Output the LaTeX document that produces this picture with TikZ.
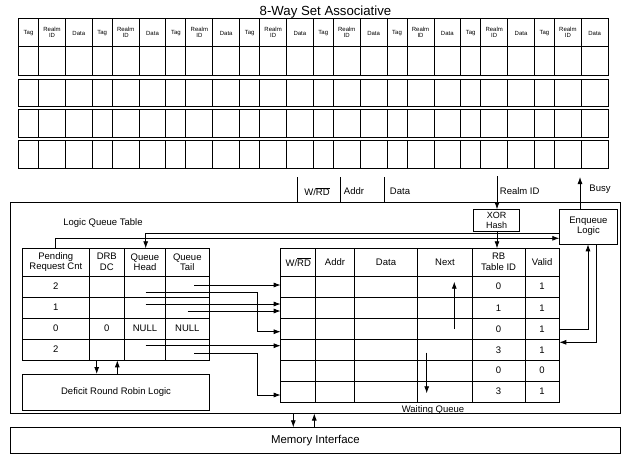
\documentclass[tikz,border=0pt]{standalone}
\usepackage{fontspec}
\setmainfont{Liberation Sans}
\usetikzlibrary{arrows.meta}
\newcommand\ovl[1]{$\overline{\hbox{#1}}$}
\begin{document}
\begin{tikzpicture}[x=1pt,y=-1pt,line width=0.8pt,
  >={Latex[length=7pt,width=5pt]},
  txt/.style={font=\fontsize{9.5}{10.5}\selectfont,inner sep=0pt,align=center},
  tiny/.style={font=\fontsize{6}{6.5}\selectfont,inner sep=0pt,align=center},
  box/.style={draw,line width=0.8pt,inner sep=0pt,anchor=north west,align=center,font=\fontsize{9.5}{10.5}\selectfont},
  arr/.style={->},
  tbl/.style={line width=1pt}]
\useasboundingbox (0,0) rectangle (626,456);

% ---------- 8-way set associative table ----------
\node[font=\fontsize{13.2}{14}\selectfont,anchor=base,inner sep=0pt] (title) at (325.5,15.8) {8-Way Set Associative};
\foreach \a/\b in {18.3/75.7,79/106.7,109.3/137.3,140/168.3}{
  \draw[tbl] (18.5,\a) rectangle (608.1,\b);
  \foreach \g in {0,...,7}{
    \pgfmathsetmacro\xo{18.5+73.7*\g}
    \draw[tbl] (\xo+20,\a) -- (\xo+20,\b);
    \draw[tbl] (\xo+47,\a) -- (\xo+47,\b);
    \ifnum\g<7 \draw[tbl] (\xo+73.7,\a) -- (\xo+73.7,\b); \fi
  }
}
\draw[tbl] (18.5,46.7) -- (608.1,46.7);
\foreach \g in {0,...,7}{
  \pgfmathsetmacro\xo{18.5+73.7*\g}
  \node[tiny] (tag\g) at (\xo+10,33) {Tag};
  \node[tiny] (rid\g) at (\xo+33.5,32.5) {Realm\\ID};
  \node[tiny] (dat\g) at (\xo+60.3,33) {Data};
}

% ---------- signals above controller ----------
\coordinate (s0) at (297,177); \coordinate (s0b) at (297,202.3);
\coordinate (s1) at (340,177); \coordinate (s1b) at (340,202.3);
\coordinate (s2) at (384.3,177); \coordinate (s2b) at (384.3,202.3);
\draw (s0) -- (s0b); \draw (s1) -- (s1b); \draw (s2) -- (s2b);
\node[txt] (lwrd) at (317,191.5) {W/\ovl{RD}};
\node[txt] (laddr) at (354,191.5) {Addr};
\node[txt] (ldata) at (400,191.5) {Data};
\node[txt,anchor=west] (lrid) at (499.5,191.5) {Realm ID};
\node[txt] (lbusy) at (600,189.3) {Busy};

% ---------- controller box ----------
\node[box,minimum width=610pt,minimum height=210.4pt] (big) at (10,202.3) {};
\node[box,minimum width=46pt,minimum height=21.4pt,font=\fontsize{9}{9.6}\selectfont] (xor) at (473.3,209.3) {XOR\\Hash};
\node[box,minimum width=57.4pt,minimum height=35pt] (enq) at (559.3,208.5) {Enqueue\\Logic};
\node[box,minimum width=186.7pt,minimum height=36pt] (drr) at (22.3,374) {Deficit Round Robin Logic};
\node[box,minimum width=610pt,minimum height=26pt,font=\fontsize{11.4}{12}\selectfont] (mem) at (10,427.3) {Memory Interface};
\node[txt] (lqtl) at (103,223.3) {Logic Queue Table};
\node[txt] (wql) at (433,410.5) {Waiting Queue};

% ---------- logic queue table ----------
\draw (22.3,248.3) rectangle (209,360.3);
\foreach \x in {89.3,124.3,165.7} \draw (\x,248.3) -- (\x,360.3);
\foreach \y in {276,297,318,339} \draw (22.3,\y) -- (209,\y);
\node[txt] (lh1) at (55.8,262) {Pending\\Request Cnt};
\node[txt] (lh2) at (106.8,262) {DRB\\DC};
\node[txt] (lh3) at (145,262) {Queue\\Head};
\node[txt] (lh4) at (187.3,262) {Queue\\Tail};
\node[txt] (lr1) at (55.8,286.5) {2};
\node[txt] (lr2) at (55.8,307.5) {1};
\node[txt] (lr3) at (55.8,328.5) {0};
\node[txt] (lr4) at (55.8,349.6) {2};
\node[txt] (lr3b) at (106.8,328.5) {0};
\node[txt] (lr3c) at (145,328.5) {NULL};
\node[txt] (lr3d) at (187.3,328.5) {NULL};

% ---------- waiting queue ----------
\draw (280.7,248.3) rectangle (559.3,402.3);
\foreach \x in {315.7,354.3,417.7,472.3,525} \draw (\x,248.3) -- (\x,402.3);
\foreach \y in {276,297.3,318.7,339.3,360.3,381} \draw (280.7,\y) -- (559.3,\y);
\node[txt] (wh1) at (298.2,262) {W/\ovl{RD}};
\node[txt] (wh2) at (335,262) {Addr};
\node[txt] (wh3) at (386,262) {Data};
\node[txt] (wh4) at (445,262) {Next};
\node[txt] (wh5) at (498.6,262) {RB\\Table ID};
\node[txt] (wh6) at (542.1,262) {Valid};
\foreach \i/\y/\r/\v in {1/286.6/0/1,2/308/1/1,3/329/0/1,4/349.8/3/1,5/370.6/0/0,6/391.6/3/1}{
  \node[txt] (rb\i) at (498.6,\y) {\r};
  \node[txt] (va\i) at (542.1,\y) {\v};
}

% ---------- connectors ----------
\coordinate (ridtop) at (497,176);
\coordinate (rbtop) at (497,248.3);
\coordinate (xorbot) at (497,230.7);
\draw[arr] (ridtop) -- (ridtop |- xor.north);
\draw[arr] (xorbot) -- (rbtop);
\coordinate (busytop) at (580,177);
\draw[arr] (busytop |- enq.north) -- (busytop);

\coordinate (pend) at (55,248.3);
\coordinate (head) at (145.7,248.3);
\draw[arr] (pend) -- (55,238.3) -- (enq.west |- 0,238.3);
\draw[arr] (enq.west |- 0,233.3) -- (145.7,233.3) -- (head);

\coordinate (t1) at (194.3,285);   \coordinate (w1) at (280.7,285);
\coordinate (h1) at (145.7,292.7); \coordinate (w3) at (280.7,331.7);
\coordinate (h2) at (145.7,304);   \coordinate (w2a) at (280.7,304);
\coordinate (t2) at (187.7,311);   \coordinate (w2b) at (280.7,311);
\coordinate (h4) at (145.7,345.7); \coordinate (w4) at (280.7,345.7);
\coordinate (t4) at (194.3,353.3); \coordinate (w6) at (280.7,395);
\draw[arr] (t1) -- (w1);
\draw[arr] (h1) -- (257.7,292.7) -- (257.7,331.7) -- (w3);
\draw[arr] (h2) -- (w2a);
\draw[arr] (t2) -- (w2b);
\draw[arr] (h4) -- (w4);
\draw[arr] (t4) -- (257.3,353.3) -- (257.3,395) -- (w6);

\coordinate (n1a) at (454.3,329);   \coordinate (n1b) at (454.3,281.7);
\coordinate (n2a) at (426.7,352.7); \coordinate (n2b) at (426.7,393.3);
\draw[arr] (n1a) -- (n1b);
\draw[arr] (n2a) -- (n2b);

\coordinate (v3) at (559.3,329);
\coordinate (v4) at (559.3,342.3);
\draw[arr] (v3) -- (588,329) -- (588,0 |- enq.south);
\draw[arr] (596.5,0 |- enq.south) -- (596.5,342.3) -- (v4);

\draw[arr] (96.7,360.3) -- (96.7,0 |- drr.north);
\draw[arr] (117.3,0 |- drr.north) -- (117.3,360.3);

\draw[arr] (293.3,0 |- big.south) -- (293.3,0 |- mem.north);
\draw[arr] (314.3,0 |- mem.north) -- (314.3,0 |- big.south);
\end{tikzpicture}
\end{document}
